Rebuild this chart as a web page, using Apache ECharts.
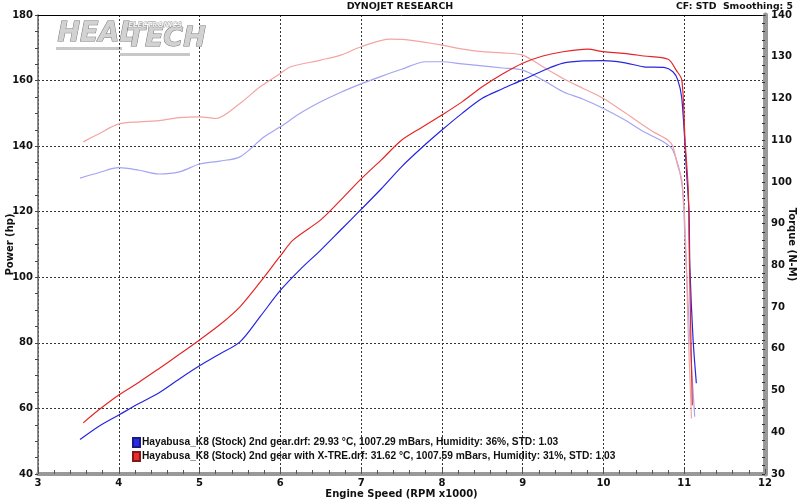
<!DOCTYPE html>
<html><head><meta charset="utf-8">
<script src="https://cdn.jsdelivr.net/npm/echarts@6/dist/echarts.min.js"></script>
<style>html,body{margin:0;padding:0;background:#fff}#c{width:800px;height:499px}</style>
</head><body><div id="c"></div>
<script>
const stockName = 'Hayabusa_K8 (Stock) 2nd gear.drf: 29.93 °C, 1007.29 mBars, Humidity: 36%, STD: 1.03';
const xtreName = 'Hayabusa_K8 (Stock) 2nd gear with X-TRE.drf: 31.62 °C, 1007.59 mBars, Humidity: 31%, STD: 1.03';

const stockPowerRpm = [3.52,3.75,4.0,4.25,4.5,4.75,5.0,5.25,5.5,5.75,6.0,6.25,6.5,6.75,7.0,7.25,7.5,7.75,8.0,8.25,8.5,8.75,9.0,9.25,9.5,9.75,10.0,10.25,10.5,10.75,10.86,10.92,10.97,11.03,11.06,11.07,11.11,11.15];
const stockPower = [50.5,54.5,58.0,61.5,64.8,69.0,73.0,76.6,80.3,88.0,96.0,102.5,108.3,114.5,120.7,127.0,133.7,139.5,144.9,150.0,154.6,157.5,160.2,163.0,165.3,166.0,166.1,165.5,164.2,164.0,162.7,160.2,154.6,131.7,119.6,103.2,80.9,67.7];

const xtrePowerRpm = [3.56,3.75,4.0,4.25,4.5,4.75,5.0,5.25,5.5,5.75,6.0,6.16,6.5,6.75,7.0,7.25,7.5,7.75,8.0,8.25,8.5,8.75,9.0,9.25,9.5,9.8,10.0,10.25,10.5,10.8,10.9,10.97,11.01,11.05,11.06,11.08,11.1];
const xtrePower = [55.6,59.5,64.1,68.0,72.2,76.5,80.9,85.5,91.0,98.5,106.5,111.4,117.5,123.6,130.0,135.8,141.8,145.7,149.5,153.5,158.1,162.0,165.3,167.5,168.8,169.6,168.8,168.3,167.5,166.5,163.2,160.2,141.9,126.6,111.4,85.0,61.0];

const stockTorqueRpm = [3.52,3.75,4.0,4.25,4.5,4.75,5.0,5.25,5.5,5.8,6.0,6.25,6.5,6.75,7.0,7.25,7.5,7.8,8.0,8.25,8.5,8.75,9.0,9.25,9.5,9.75,10.0,10.25,10.5,10.75,10.86,10.97,11.01,11.07,11.13];
const stockTorque = [100.9,102.2,103.4,102.8,101.9,102.4,104.3,105.0,106.0,110.8,113.2,116.5,119.2,121.5,123.5,125.3,127.0,128.8,128.8,128.3,127.8,127.3,126.8,124.4,121.6,119.8,117.6,115.0,112.0,109.5,107.6,99.7,86.1,62.1,43.7];

const xtreTorqueRpm = [3.56,3.75,4.0,4.25,4.5,4.75,5.0,5.2,5.5,5.75,6.0,6.13,6.5,6.75,7.0,7.36,7.6,8.0,8.26,8.5,8.75,9.0,9.25,9.5,9.75,10.0,10.25,10.6,10.8,10.86,10.91,10.97,11.01,11.05,11.09];
const xtreTorque = [109.6,111.5,113.9,114.4,114.7,115.4,115.6,115.2,118.8,122.8,126.0,127.6,129.2,130.4,132.4,134.2,134.0,132.8,131.8,131.2,130.9,130.4,127.6,124.8,122.4,120.0,116.8,112.2,110.0,108.5,104.5,100.4,89.3,63.7,43.3];

function pairs(xs, ys){ return xs.map((x,i)=>[x, ys[i]]); }

const font = 'DejaVu Sans';
const chart = echarts.init(document.getElementById('c'), null, {renderer:'canvas'});
chart.setOption({
  animation:false,
  backgroundColor:'#fff',
  title:[
    {text:'DYNOJET RESEARCH', left:'center', top:-3, textStyle:{fontFamily:font, fontSize:9.5, fontWeight:'bold', color:'#111'}},
    {text:'CF: STD  Smoothing: 5', right:2, top:-3, textStyle:{fontFamily:font, fontSize:9.3, fontWeight:'bold', color:'#111'}}
  ],
  legend:{
    orient:'vertical', left:127, top:432, itemWidth:7, itemHeight:9, itemGap:3,
    icon:'rect', data:[stockName, xtreName],
    textStyle:{fontFamily:'Liberation Sans', fontSize:10.2, fontWeight:'bold', color:'#111', padding:[0,0,0,-3]}
  },
  graphic:[
    {type:'text', left:57, top:20, z:1, style:{text:'HEAL', font:'italic bold 27px "DejaVu Sans"', fill:'#d2d2d2', stroke:'#777', lineWidth:1}},
    {type:'text', left:126, top:25, z:1, style:{text:'TECH', font:'italic bold 27px "DejaVu Sans"', fill:'#d2d2d2', stroke:'#777', lineWidth:1}},
    {type:'text', left:128, top:21, z:2, style:{text:'ELECTRONICS', font:'italic bold 7px "DejaVu Sans"', fill:'#eee', stroke:'#888', lineWidth:0.6}},
    {type:'rect', left:56, top:47, z:0, shape:{width:66, height:3}, style:{fill:'#c8c8c8'}},
    {type:'rect', left:120, top:53, z:0, shape:{width:70, height:3}, style:{fill:'#c8c8c8'}}
  ],
  grid:{left:38, right:35, top:15, bottom:25, containLabel:false, outerBoundsMode:'none'},
  xAxis:[{
    type:'value', min:3, max:12, interval:1,
    name:'Engine Speed (RPM x1000)', nameLocation:'middle', nameGap:15, nameMoveOverlap:false,
    nameTextStyle:{fontFamily:font, fontSize:10, fontWeight:'bold', color:'#111'},
    axisLine:{lineStyle:{color:'#999', width:4}},
    axisTick:{inside:true, length:5, lineStyle:{color:'#555'}},
    minorTick:{show:true, splitNumber:5, length:4, lineStyle:{color:'#555'}},
    axisLabel:{fontFamily:font, fontSize:10, fontWeight:'bold', color:'#111', margin:4},
    splitLine:{show:true, lineStyle:{color:'#333', type:[2,2], width:1}}
  },{
    type:'value', min:3, max:12, position:'top',
    axisLine:{show:true, lineStyle:{color:'#000', width:1}},
    axisTick:{show:false}, axisLabel:{show:false}, splitLine:{show:false}
  }],
  yAxis:[{
    type:'value', min:40, max:180, interval:20,
    name:'Power (hp)', nameLocation:'middle', nameGap:23, nameRotate:90, nameMoveOverlap:false,
    nameTextStyle:{fontFamily:font, fontSize:10, fontWeight:'bold', color:'#111'},
    axisLine:{show:true, lineStyle:{color:'#666', width:1.5}},
    axisTick:{show:true, length:3, lineStyle:{color:'#444'}},
    minorTick:{show:true, splitNumber:4, length:3, lineStyle:{color:'#444'}},
    axisLabel:{fontFamily:font, fontSize:10, fontWeight:'bold', color:'#111', margin:5},
    splitLine:{show:true, lineStyle:{color:'#333', type:[2,2], width:1}}
  },{
    type:'value', min:30, max:140, interval:10, position:'right',
    name:'Torque (N-M)', nameLocation:'middle', nameGap:22, nameRotate:-90, nameMoveOverlap:false,
    nameTextStyle:{fontFamily:font, fontSize:10, fontWeight:'bold', color:'#111'},
    axisLine:{show:true, lineStyle:{color:'#999', width:5}},
    axisTick:{show:true, length:3, inside:true, lineStyle:{color:'#333'}},
    minorTick:{show:true, splitNumber:5, length:3, lineStyle:{color:'#333'}},
    axisLabel:{fontFamily:font, fontSize:10, fontWeight:'bold', color:'#111', margin:6},
    splitLine:{show:false}
  }],
  series:[
    {name:'Stock torque', type:'line', yAxisIndex:1, showSymbol:false, smooth:0.3, data:pairs(stockTorqueRpm, stockTorque), lineStyle:{color:'#a4a4f2', width:1.2}, itemStyle:{color:'#a4a4f2'}, z:3},
    {name:'X-TRE torque', type:'line', yAxisIndex:1, showSymbol:false, smooth:0.3, data:pairs(xtreTorqueRpm, xtreTorque), lineStyle:{color:'#f4a4a4', width:1.2}, itemStyle:{color:'#f4a4a4'}, z:3},
    {name:stockName, type:'line', yAxisIndex:0, showSymbol:false, smooth:0.3, data:pairs(stockPowerRpm, stockPower), lineStyle:{color:'#2626e0', width:1.2}, itemStyle:{color:'#2b2bee', borderColor:'#1a1a80', borderWidth:0.8}, z:4},
    {name:xtreName, type:'line', yAxisIndex:0, showSymbol:false, smooth:0.3, data:pairs(xtrePowerRpm, xtrePower), lineStyle:{color:'#e42626', width:1.2}, itemStyle:{color:'#ee2b2b', borderColor:'#801a1a', borderWidth:0.8}, z:4}
  ]
});
</script></body></html>
